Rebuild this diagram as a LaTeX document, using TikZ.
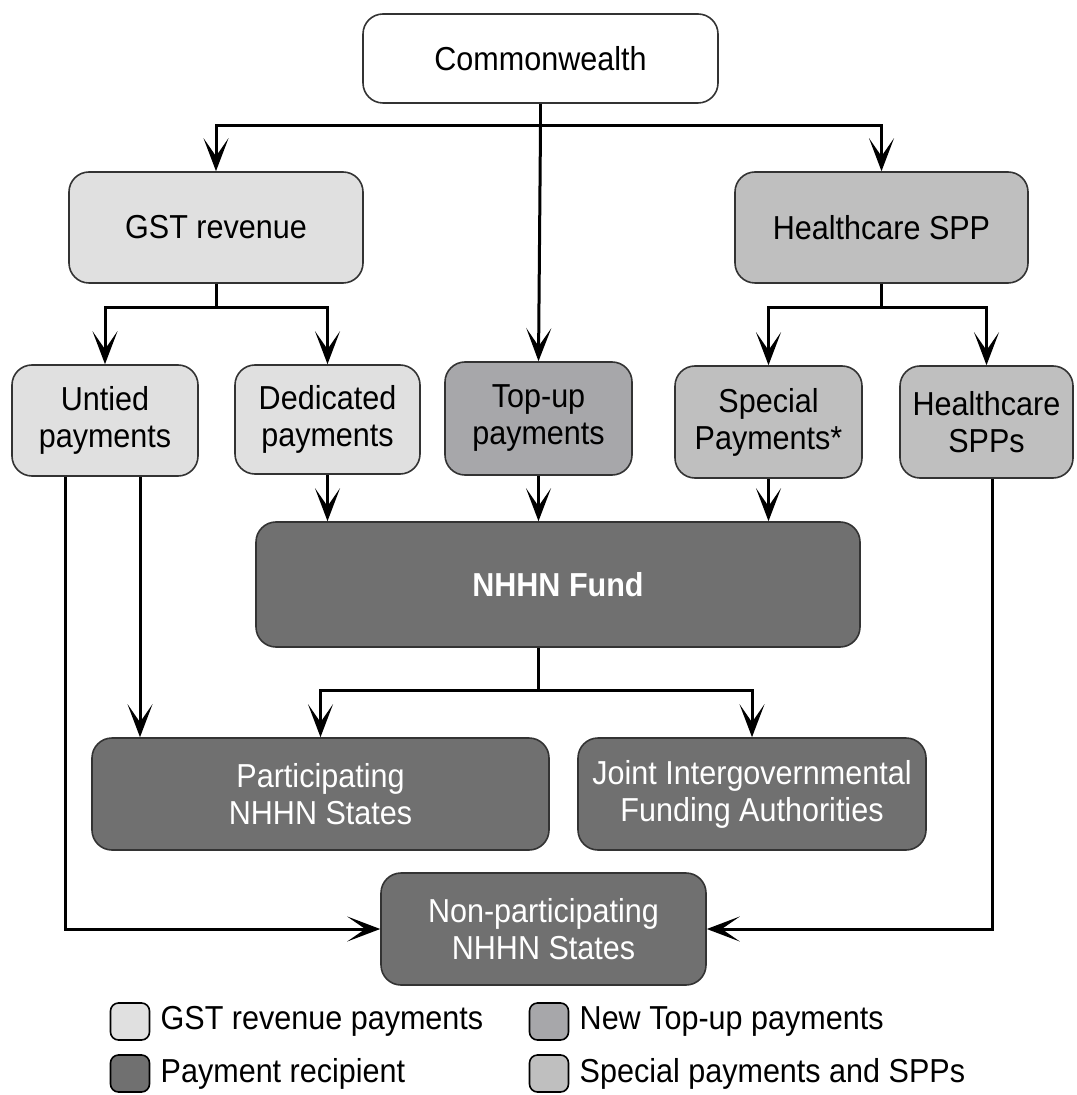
\documentclass[tikz,border=0pt]{standalone}
\usepackage{fontspec}
\setmainfont[FakeStretch=0.92]{Liberation Sans}
\usetikzlibrary{positioning, arrows.meta, calc}

\definecolor{gstgray}{HTML}{E0E0E0}
\definecolor{topgray}{HTML}{A7A7AA}
\definecolor{sppgray}{HTML}{BFBFBF}
\definecolor{recgray}{HTML}{707070}

\tikzset{
  box/.style={draw=black!80, line width=0.8pt, rounded corners=10pt, align=center,
    inner sep=2pt, font=\fontsize{16.6}{18.5}\selectfont},
  gstbox/.style={box, fill=gstgray},
  topbox/.style={box, fill=topgray},
  sppbox/.style={box, fill=sppgray},
  recbox/.style={box, fill=recgray, text=white},
  legbox/.style={draw=black, line width=0.8pt, rounded corners=4pt,
    minimum width=19.5pt, minimum height=18.5pt, inner sep=0pt},
  legtext/.style={anchor=west, inner sep=0pt, font=\fontsize{16.6}{18}\selectfont},
  arr/.style={line width=1.5pt, -{Stealth[length=16.5pt, width=12.5pt, inset=9pt]}},
  ln/.style={line width=1.5pt}
}

\begin{document}
\begin{tikzpicture}[x=0.5pt, y=-0.5pt]
    \useasboundingbox (0,0) rectangle (1076,1095);

    % Boxes
    \node[box, fill=white, minimum width=177.5pt, minimum height=44.5pt] (comm) at (540.5,58.5) {Commonwealth};
    \node[gstbox, minimum width=147pt, minimum height=55.5pt] (gst) at (216,227.5) {GST revenue};
    \node[sppbox, minimum width=146.5pt, minimum height=55.5pt] (hspp) at (881.5,227.5) {Healthcare SPP};

    \node[gstbox, minimum width=93pt, minimum height=55.5pt] (untied) at (105,420.5) {Untied\\payments};
    \node[gstbox, minimum width=92.5pt, minimum height=54.5pt] (ded) at (327.5,419.5) {Dedicated\\payments};
    \node[topbox, minimum width=93.5pt, minimum height=56.5pt] (topup) at (538.5,418.5) {Top-up\\payments};
    \node[sppbox, minimum width=93.5pt, minimum height=56pt] (special) at (768.5,422) {Special\\Payments*};
    \node[sppbox, minimum width=86.5pt, minimum height=56pt] (hspps) at (986.5,422) {Healthcare\\SPPs};

    \node[recbox, minimum width=302pt, minimum height=62.5pt, font=\fontsize{16.6}{18.5}\selectfont\bfseries] (fund) at (558,584.5) {NHHN Fund};

    \node[recbox, minimum width=228.5pt, minimum height=56pt] (part) at (320.5,794) {Participating\\NHHN States};
    \node[recbox, minimum width=174pt, minimum height=56pt] (joint) at (752,794) {Joint Intergovernmental\\Funding Authorities};
    \node[recbox, minimum width=162.5pt, minimum height=56pt] (nonpart) at (543.5,929) {Non-participating\\NHHN States};

    % Split points
    \coordinate (splitc) at ($(comm.south)+(0,22)$);
    \coordinate (splitg) at ($(gst.south)+(0,24)$);
    \coordinate (splith) at ($(hspp.south)+(0,24)$);
    \coordinate (splitf) at ($(topup.south |- fund.south)+(0,43)$);
    \coordinate (untiedr) at ($(untied.south)+(35,0)$);
    \coordinate (untiedl) at ($(untied.south)+(-40,0)$);
    \coordinate (hsppsb) at ($(hspps.south)+(6,0)$);

    % Connectors
    \draw[ln] (comm.south) -- (splitc);
    \draw[arr] (splitc) -| (gst.north);
    \draw[arr] (splitc) -| (hspp.north);
    \draw[arr] (splitc) -- (topup.north);

    \draw[ln] (gst.south) -- (splitg);
    \draw[arr] (splitg) -| (untied.north);
    \draw[arr] (splitg) -| (ded.north);

    \draw[ln] (hspp.south) -- (splith);
    \draw[arr] (splith) -| (special.north);
    \draw[arr] (splith) -| (hspps.north);

    \draw[arr] (ded.south) -- (ded.south |- fund.north);
    \draw[arr] (topup.south) -- (topup.south |- fund.north);
    \draw[arr] (special.south) -- (special.south |- fund.north);

    \draw[ln] (topup.south |- fund.south) -- (splitf);
    \draw[arr] (splitf) -| (part.north);
    \draw[arr] (splitf) -| (joint.north);

    \draw[arr] (untiedr) -- (untiedr |- part.north);
    \draw[arr] (untiedl) |- (nonpart.west);
    \draw[arr] (hsppsb) |- (nonpart.east);

    % Legend
    \foreach \n/\x/\y/\c/\t in {l1/130/1021.5/gstgray/GST revenue payments,
                                l2/549/1021.5/topgray/New Top-up payments,
                                l3/130/1073.5/recgray/Payment recipient,
                                l4/549/1073.5/sppgray/Special payments and SPPs} {
      \node[legbox, fill=\c] (\n) at (\x,\y) {};
      \node[legtext, right=5pt of \n] (\n t) {\t};
    }

\end{tikzpicture}
\end{document}
